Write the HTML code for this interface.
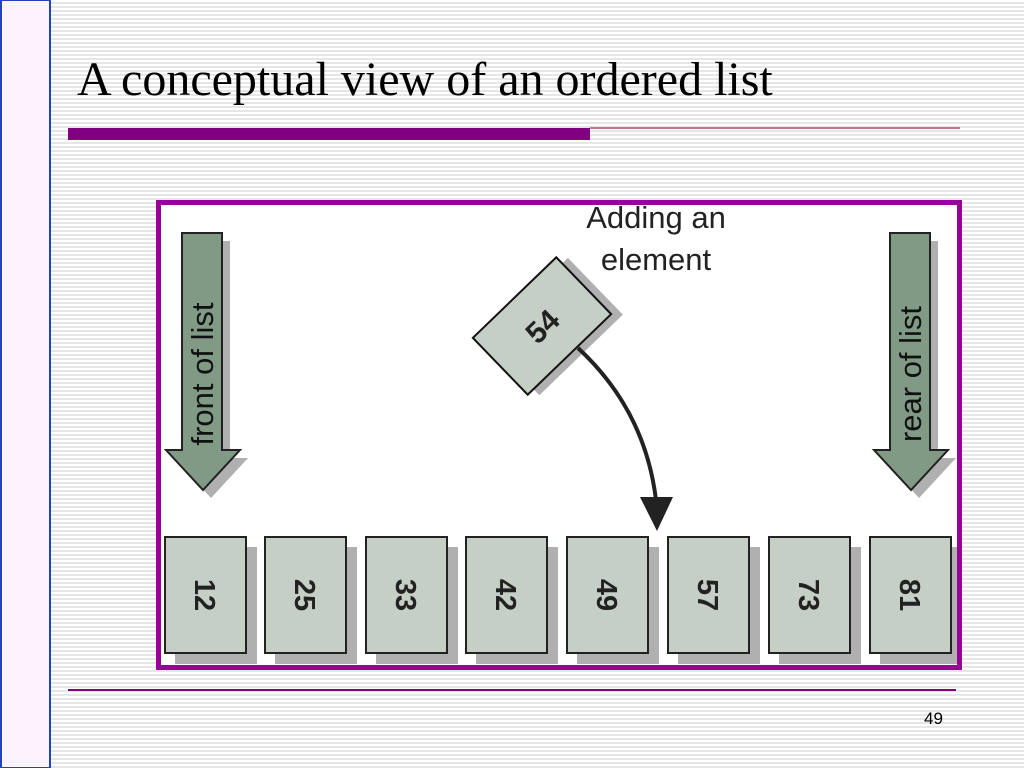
<!DOCTYPE html>
<html><head><meta charset="utf-8"><style>
html,body{margin:0;padding:0;}
body{width:1024px;height:768px;overflow:hidden;position:relative;
background:repeating-linear-gradient(to bottom,#ffffff 0px,#ffffff 2px,#e6e6e6 2px,#e6e6e6 4px);}
</style></head><body>
<svg width="1024" height="768" style="position:absolute;left:0;top:0" xmlns="http://www.w3.org/2000/svg">
<rect x="1" y="0" width="49" height="768" fill="#fdf2fd" stroke="#2244bb" stroke-width="2"/>
<text x="77" y="95" font-family="Liberation Serif, serif" font-size="48" fill="#000">A conceptual view of an ordered list</text>
<rect x="68" y="128" width="522" height="12" fill="#800080"/>
<rect x="590" y="127" width="370" height="2" fill="#c07888"/>
<rect x="68" y="689" width="888" height="2" fill="#800080"/>
<text x="924" y="724" font-family="Liberation Sans, sans-serif" font-size="17" fill="#000">49</text>
<rect x="158.5" y="202.5" width="801" height="465" fill="#fff" stroke="#990099" stroke-width="5"/>
<!-- left arrow -->
<polygon points="190,241 230,241 230,458 248,458 211,498 174,458 190,458" fill="#b0b0b0"/>
<polygon points="182,233 222,233 222,450 240,450 203,490 166,450 182,450" fill="#809a86" stroke="#222" stroke-width="2"/>
<text transform="translate(213,374) rotate(-90)" text-anchor="middle" font-family="Liberation Sans, sans-serif" font-size="31" fill="#111">front of list</text>
<!-- right arrow -->
<polygon points="898,241 938,241 938,458 956,458 919,498 882,458 898,458" fill="#b0b0b0"/>
<polygon points="890,233 930,233 930,450 948,450 911,490 874,450 890,450" fill="#809a86" stroke="#222" stroke-width="2"/>
<text transform="translate(921,374) rotate(-90)" text-anchor="middle" font-family="Liberation Sans, sans-serif" font-size="31" fill="#111">rear of list</text>
<!-- label -->
<text x="656" y="228" text-anchor="middle" font-family="Liberation Sans, sans-serif" font-size="31" fill="#222">Adding an</text>
<text x="656" y="270" text-anchor="middle" font-family="Liberation Sans, sans-serif" font-size="31" fill="#222">element</text>
<!-- diamond 54 -->
<g transform="translate(542,326) rotate(-44)">
<rect x="-50" y="-31" width="116" height="79" fill="#b0b0b0"/>
<rect x="-58" y="-39.5" width="116" height="79" fill="#c5cfc5" stroke="#111" stroke-width="2"/>
<text x="0" y="11" text-anchor="middle" font-family="Liberation Sans, sans-serif" font-weight="bold" font-size="30" fill="#222">54</text>
</g>
<path d="M578,348 Q645,410 656,500" fill="none" stroke="#222" stroke-width="4"/>
<polygon points="640,497 673,497 657,531" fill="#222"/>
<!-- boxes -->
<g font-family="Liberation Sans, sans-serif" font-weight="bold" font-size="29" fill="#222">
<g transform="translate(165,537)"><rect x="10" y="10" width="82" height="117" fill="#b0b0b0"/><rect x="0" y="0" width="81" height="116" fill="#c5cfc5" stroke="#222" stroke-width="2"/><text transform="translate(30,58) rotate(90)" text-anchor="middle">12</text></g>
<g transform="translate(265,537)"><rect x="10" y="10" width="82" height="117" fill="#b0b0b0"/><rect x="0" y="0" width="81" height="116" fill="#c5cfc5" stroke="#222" stroke-width="2"/><text transform="translate(30,58) rotate(90)" text-anchor="middle">25</text></g>
<g transform="translate(366,537)"><rect x="10" y="10" width="82" height="117" fill="#b0b0b0"/><rect x="0" y="0" width="81" height="116" fill="#c5cfc5" stroke="#222" stroke-width="2"/><text transform="translate(30,58) rotate(90)" text-anchor="middle">33</text></g>
<g transform="translate(466,537)"><rect x="10" y="10" width="82" height="117" fill="#b0b0b0"/><rect x="0" y="0" width="81" height="116" fill="#c5cfc5" stroke="#222" stroke-width="2"/><text transform="translate(30,58) rotate(90)" text-anchor="middle">42</text></g>
<g transform="translate(567,537)"><rect x="10" y="10" width="82" height="117" fill="#b0b0b0"/><rect x="0" y="0" width="81" height="116" fill="#c5cfc5" stroke="#222" stroke-width="2"/><text transform="translate(30,58) rotate(90)" text-anchor="middle">49</text></g>
<g transform="translate(668,537)"><rect x="10" y="10" width="82" height="117" fill="#b0b0b0"/><rect x="0" y="0" width="81" height="116" fill="#c5cfc5" stroke="#222" stroke-width="2"/><text transform="translate(30,58) rotate(90)" text-anchor="middle">57</text></g>
<g transform="translate(769,537)"><rect x="10" y="10" width="82" height="117" fill="#b0b0b0"/><rect x="0" y="0" width="81" height="116" fill="#c5cfc5" stroke="#222" stroke-width="2"/><text transform="translate(30,58) rotate(90)" text-anchor="middle">73</text></g>
<g transform="translate(870,537)"><rect x="10" y="10" width="82" height="117" fill="#b0b0b0"/><rect x="0" y="0" width="81" height="116" fill="#c5cfc5" stroke="#222" stroke-width="2"/><text transform="translate(30,58) rotate(90)" text-anchor="middle">81</text></g>
</g>
<rect x="158.5" y="202.5" width="801" height="465" fill="none" stroke="#990099" stroke-width="5"/>
</svg>
</body></html>
